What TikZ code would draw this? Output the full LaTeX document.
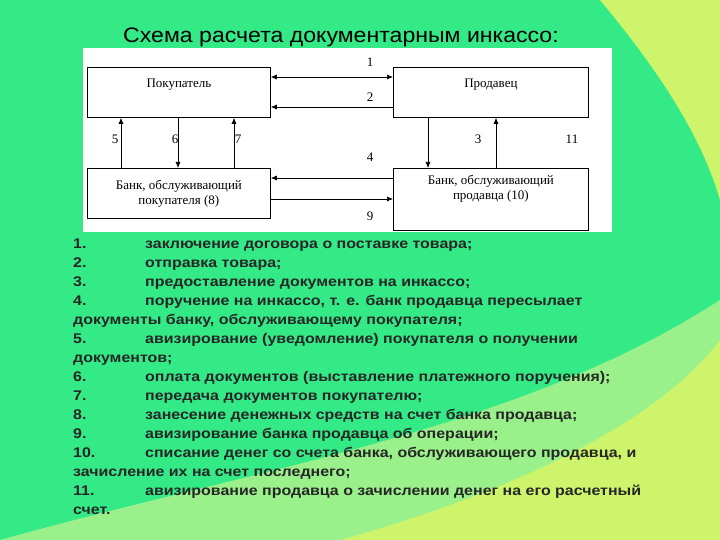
\documentclass[tikz,border=0pt]{standalone}
\usepackage{fontspec}
\setmainfont{Liberation Serif}
\newfontfamily\ls[FakeStretch=1.14]{Liberation Sans}
\newfontfamily\lt[FakeStretch=1.1]{Liberation Sans}
\usetikzlibrary{arrows.meta}
\definecolor{bg}{HTML}{34EA86}
\definecolor{wedge}{HTML}{9AF08A}
\definecolor{wedgey}{HTML}{CDF46A}
\tikzset{box/.style={draw,line width=0.8pt,fill=white,align=center,font=\fontsize{13}{15}\selectfont,inner sep=0pt},
 ar/.style={line width=0.7pt,-{Latex[length=6pt,width=5pt]}},
 lab/.style={font=\fontsize{13}{14}\selectfont},
 li/.style={anchor=base west,font=\ls\bfseries\fontsize{14}{15}\selectfont,inner sep=0pt,text=black!85}}
\begin{document}
\begin{tikzpicture}[x=1pt,y=-1pt]
\useasboundingbox (0,0) rectangle (720,540);
\fill[bg] (0,0) rectangle (720,540);
\fill[wedge] (0,540) .. controls (250,470) and (520,430) .. (720,300) -- (720,540) -- cycle;
\fill[wedgey] (340,540) .. controls (520,490) and (660,420) .. (720,340) -- (720,540) -- cycle;
\fill[wedgey] (600,0) .. controls (650,60) and (700,130) .. (720,200) -- (720,0) -- cycle;
\node[font=\lt\fontsize{21}{22}\selectfont] (title) at (341,37) {Схема расчета документарным инкассо:};
\fill[white] (83,48) rectangle (612,232);
\node[box,minimum width=183pt,minimum height=50pt,anchor=north west] (buy) at (87,67) {\raisebox{18pt}{Покупатель}};
\node[box,minimum width=195pt,minimum height=50pt,anchor=north west] (sel) at (393,67) {\raisebox{18pt}{Продавец}};
\node[box,minimum width=183pt,minimum height=50pt,anchor=north west] (bb) at (87,168) {Банк, обслуживающий\\покупателя (8)};
\node[box,minimum width=195pt,minimum height=62pt,anchor=north west] (sb) at (393,168) {Банк, обслуживающий\\продавца (10)\\[10pt]};
\draw[ar,{Latex[length=6pt,width=5pt]}-{Latex[length=6pt,width=5pt]}] (buy.east|-0,77) -- (sel.west|-0,77);
\draw[ar] (sel.west|-0,107) -- (buy.east|-0,107);
\draw[ar] (sb.west|-0,178) -- (bb.east|-0,178);
\draw[ar] (bb.east|-0,199) -- (sb.west|-0,199);
\draw[ar] (bb.north-|121,0) -- (buy.south-|121,0);
\draw[ar] (buy.south-|178,0) -- (bb.north-|178,0);
\draw[ar] (bb.north-|234,0) -- (buy.south-|234,0);
\draw[ar] (sel.south-|428,0) -- (sb.north-|428,0);
\draw[ar] (sb.north-|496,0) -- (sel.south-|496,0);
\node[lab] (l1) at (370,62) {1};
\node[lab] (l2) at (370,97) {2};
\node[lab] (l4) at (370,157) {4};
\node[lab] (l9) at (370,216) {9};
\node[lab] (l5) at (115,139) {5};
\node[lab] (l6) at (175,139) {6};
\node[lab] (l7) at (238,139) {7};
\node[lab] (l3) at (478,139) {3};
\node[lab] (l11) at (572,139) {11};
\foreach \n/\y/\t in {1/248/{заключение договора о поставке товара;},2/267/{отправка товара;},3/286/{предоставление документов на инкассо;},4/305/{поручение на инкассо, т. е. банк продавца пересылает},5/343/{авизирование (уведомление) покупателя о получении},6/381/{оплата документов (выставление платежного поручения);},7/400/{передача документов покупателю;},8/419/{занесение денежных средств на счет банка продавца;},9/438/{авизирование банка продавца об операции;},10/457/{списание денег со счета банка, обслуживающего продавца, и},11/495/{авизирование продавца о зачислении денег на его расчетный}}{
 \node[li] (n\n) at (73,\y) {\n.};
 \node[li] (t\n) at (145,\y) {\t};
}
\node[li] (w4) at (73,324) {документы банку, обслуживающему покупателя;};
\node[li] (w5) at (73,362) {документов;};
\node[li] (w10) at (73,476) {зачисление их на счет последнего;};
\node[li] (w11) at (73,514) {счет.};
\end{tikzpicture}
\end{document}
